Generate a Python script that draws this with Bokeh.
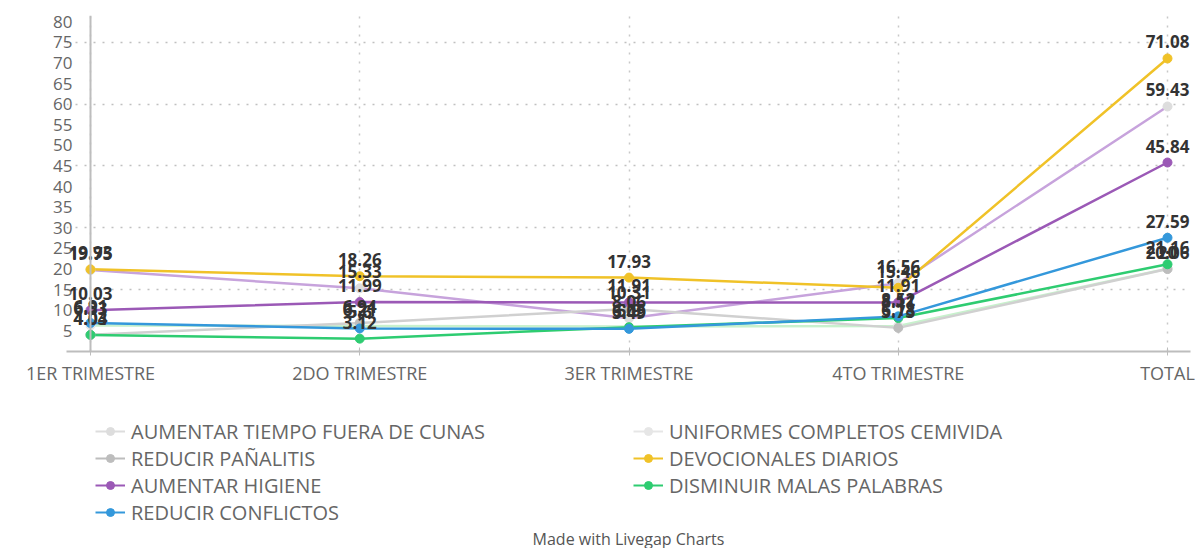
from bokeh.plotting import figure
from bokeh.layouts import column
from bokeh.models import Range1d, FixedTicker, Legend, LegendItem, Span, Label
from bokeh.core.properties import value
from bokeh.embed import file_html
from bokeh.resources import INLINE

categories = ["1ER TRIMESTRE", "2DO TRIMESTRE", "3ER TRIMESTRE", "4TO TRIMESTRE", "TOTAL"]

aumentar_tiempo = [19.75, 15.33, 8.06, 16.56, 59.43]
uniformes = [6.33, 6.21, 6.05, 6.18, 20.06]
reducir_panalitis = [4.04, 6.94, 10.31, 5.73, 20.0]
devocionales = [19.93, 18.26, 17.93, 15.46, 71.08]
aumentar_higiene = [10.03, 11.99, 11.91, 11.91, 45.84]
disminuir_palabras = [4.03, 3.12, 5.90, 8.11, 21.16]
reducir_conflictos = [6.91, 5.60, 5.49, 8.52, 27.59]

y_ticks = list(range(5, 85, 5))
grid_ticks = [15, 30, 45, 60, 75]

series = [
    ("AUMENTAR TIEMPO FUERA DE CUNAS", aumentar_tiempo, "#c7a3dc", "#dddddd"),
    ("UNIFORMES COMPLETOS CEMIVIDA", uniformes, "#c8f1cd", "#e6e6e6"),
    ("REDUCIR PAÑALITIS", reducir_panalitis, "#d0d0d0", "#bdbdbd"),
    ("DEVOCIONALES DIARIOS", devocionales, "#f0c228", "#f0c228"),
    ("AUMENTAR HIGIENE", aumentar_higiene, "#9b59b6", "#9b59b6"),
    ("DISMINUIR MALAS PALABRAS", disminuir_palabras, "#2ecc71", "#2ecc71"),
    ("REDUCIR CONFLICTOS", reducir_conflictos, "#3498db", "#3498db"),
]
legend_order = ["AUMENTAR TIEMPO FUERA DE CUNAS", "REDUCIR PAÑALITIS", "AUMENTAR HIGIENE",
                "REDUCIR CONFLICTOS", "UNIFORMES COMPLETOS CEMIVIDA", "DEVOCIONALES DIARIOS",
                "DISMINUIR MALAS PALABRAS"]
footer_text = "Made with Livegap Charts"

FONT = "Open Sans"

# ---------------- layout (pixels) ----------------
W = 1200
H_MAIN, H_LEG = 390, 158
frame_left, frame_right = 66, 1190
first_cat_px, last_cat_px = 90, 1167
frame_top, frame_bottom = 15, 351

n = len(categories)
px_per_unit = (last_cat_px - first_cat_px) / (n - 1)
x_start = -(first_cat_px - frame_left) / px_per_unit
x_end = (n - 1) + (frame_right - last_cat_px) / px_per_unit

p = figure(width=W, height=H_MAIN, output_backend="svg", toolbar_location=None,
           x_range=Range1d(x_start, x_end), y_range=Range1d(0, 81.5),
           min_border_left=frame_left, min_border_right=W - frame_right,
           min_border_top=frame_top, min_border_bottom=H_MAIN - frame_bottom)
p.outline_line_color = None
p.background_fill_color = "white"

xs = list(range(n))

# x axis
p.xaxis.ticker = FixedTicker(ticks=xs)
p.xaxis.major_label_overrides = {i: c for i, c in enumerate(categories)}
p.xaxis.axis_line_color = "#bdbdbd"
p.xaxis.axis_line_width = 2
p.xaxis.major_tick_line_color = "#bdbdbd"
p.xaxis.major_tick_in = 4
p.xaxis.major_tick_out = 4
p.xaxis.minor_tick_line_color = None
p.xaxis.major_label_standoff = 5
p.xaxis.major_label_text_font = FONT
p.xaxis.major_label_text_font_size = "18px"
p.xaxis.major_label_text_color = "#666666"

# y axis (its line is drawn as a span at the first category)
p.yaxis.ticker = FixedTicker(ticks=y_ticks)
p.yaxis.axis_line_color = None
p.yaxis.major_tick_line_color = None
p.yaxis.minor_tick_line_color = None
p.yaxis.major_tick_in = 0
p.yaxis.major_tick_out = 0
p.yaxis.major_label_standoff = -6
p.yaxis.major_label_text_font = FONT
p.yaxis.major_label_text_font_size = "17px"
p.yaxis.major_label_text_color = "#666666"

# grids
p.xgrid.grid_line_color = "#c8c8c8"
p.xgrid.grid_line_dash = "2 7"
p.xgrid.grid_line_width = 1.5
p.ygrid.ticker = FixedTicker(ticks=grid_ticks)
p.ygrid.grid_line_color = "#c0c0c0"
p.ygrid.grid_line_dash = "2 7"
p.ygrid.grid_line_width = 1.5

p.add_layout(Span(location=xs[0], dimension="height", line_color="#bdbdbd", line_width=2))

for name, vals, lc, mc in series:
    p.line(xs, vals, line_color=lc, line_width=2.5)
for name, vals, lc, mc in series:
    p.scatter(xs, vals, size=9, fill_color=mc, line_color=mc)
for name, vals, lc, mc in series:
    labels = [f"{v:g}" for v in vals]
    p.text(xs, vals, text=labels, text_font=value(FONT), text_font_style="bold",
           text_font_size="17px", text_color="#333333", text_align="center",
           text_baseline="bottom", y_offset=-10)

# ---------------- legend + footer strip ----------------
# (the column aligns this strip's frame with the chart frame, which starts at frame_left)
q = figure(width=W, height=H_LEG, output_backend="svg", toolbar_location=None,
           x_range=Range1d(0, 1), y_range=Range1d(0, 1),
           x_axis_location=None, y_axis_location=None,
           min_border_left=0, min_border_right=0, min_border_top=0, min_border_bottom=0)
q.outline_line_color = None
q.grid.visible = False

nan = float("nan")
items = {}
for name, vals, lc, mc in series:
    sw_line = q.line(x=[nan], y=[nan], line_color=mc, line_width=2)
    sw_dot = q.scatter(x=[nan], y=[nan], size=9, fill_color=mc, line_color=mc)
    items[name] = LegendItem(label=name, renderers=[sw_line, sw_dot])

legend_top = 27   # from top of strip
row_h = 27.2
legend_h = 4 * row_h
legend = Legend(items=[items[k] for k in legend_order], orientation="vertical", ncols=2,
                location=(95 - frame_left, H_LEG - legend_top - legend_h),
                label_text_font=FONT, label_text_font_size="20px", label_text_color="#666666",
                glyph_width=30, glyph_height=20, label_height=20, label_standoff=6,
                spacing=0, padding=0, margin=0, label_width=502,
                border_line_color=None, background_fill_alpha=0)
q.add_layout(legend)

q.add_layout(Label(x=(frame_left + frame_right) / 2 - frame_left, y=10,
                   x_units="screen", y_units="screen",
                   text=footer_text, text_align="center", text_baseline="middle",
                   text_font=FONT, text_font_size="16px", text_color="#555555"))

open("out.html", "w").write(file_html(column(p, q), INLINE))
